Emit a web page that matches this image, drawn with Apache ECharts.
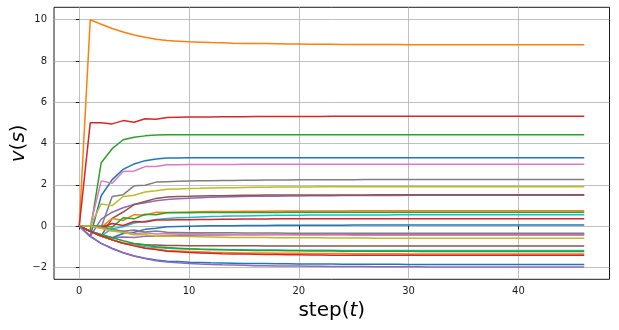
<!DOCTYPE html>
<html>
<head>
<meta charset="utf-8">
<script src="https://cdn.jsdelivr.net/npm/echarts@6/dist/echarts.min.js"></script>
<style>
html,body{margin:0;padding:0;background:#fff;}
#chart{width:619px;height:330px;}
</style>
</head>
<body>
<div id="chart"></div>
<script>
const steps = [0,1,2,3,4,5,6,7,8,9,10,11,12,13,14,15,16,17,18,19,20,21,22,23,24,25,26,27,28,29,30,31,32,33,34,35,36,37,38,39,40,41,42,43,44,45,46];
const xTicks = [0, 10, 20, 30, 40];
const yTicks = [-2, 0, 2, 4, 6, 8, 10];
const colors = ['#1f77b4','#ff7f0e','#2ca02c','#d62728','#9467bd','#8c564b','#e377c2','#7f7f7f','#bcbd22','#17becf'];

const v_s0 = [0,-0.5,1.47,2.25,2.75,3.01,3.17,3.25,3.30,3.30,
 3.31,3.31,3.31,3.31,3.31,3.31,3.31,3.31,3.31,3.31,
 3.31,3.31,3.31,3.31,3.31,3.31,3.31,3.31,3.31,3.31,
 3.31,3.31,3.31,3.31,3.31,3.31,3.31,3.31,3.31,3.31,
 3.31,3.31,3.31,3.31,3.31,3.31,3.31];
const v_s1 = [0,10,9.78,9.57,9.40,9.26,9.15,9.05,8.99,8.96,
 8.93,8.91,8.89,8.88,8.86,8.85,8.84,8.84,8.83,8.82,
 8.82,8.81,8.81,8.81,8.80,8.80,8.80,8.80,8.80,8.80,
 8.79,8.79,8.79,8.79,8.79,8.79,8.79,8.79,8.79,8.79,
 8.79,8.79,8.79,8.79,8.79,8.79,8.79];
const v_s2 = [0,-0.25,3.07,3.75,4.18,4.30,4.37,4.41,4.42,4.42,
 4.43,4.43,4.43,4.43,4.43,4.43,4.43,4.43,4.43,4.43,
 4.43,4.43,4.43,4.43,4.43,4.43,4.43,4.43,4.43,4.43,
 4.43,4.43,4.43,4.43,4.43,4.43,4.43,4.43,4.43,4.43,
 4.43,4.43,4.43,4.43,4.43,4.43,4.43];
const v_s3 = [0,5,5.00,4.95,5.11,5.03,5.20,5.18,5.26,5.27,
 5.28,5.29,5.29,5.30,5.30,5.30,5.31,5.31,5.31,5.31,
 5.31,5.31,5.31,5.32,5.32,5.32,5.32,5.32,5.32,5.32,
 5.32,5.32,5.32,5.32,5.32,5.32,5.32,5.32,5.32,5.32,
 5.32,5.32,5.32,5.32,5.32,5.32,5.32];
const v_s4 = [0,-0.5,0.34,0.67,0.89,1.04,1.13,1.23,1.29,1.32,
 1.35,1.37,1.39,1.41,1.42,1.43,1.44,1.45,1.45,1.46,
 1.46,1.47,1.47,1.47,1.48,1.48,1.48,1.48,1.48,1.48,
 1.49,1.49,1.49,1.49,1.49,1.49,1.49,1.49,1.49,1.49,
 1.49,1.49,1.49,1.49,1.49,1.49,1.49];
const v_s5 = [0,-0.25,-0.48,0.37,0.68,1.04,1.19,1.34,1.41,1.43,
 1.44,1.46,1.47,1.47,1.48,1.49,1.49,1.50,1.50,1.50,
 1.51,1.51,1.51,1.51,1.51,1.51,1.51,1.52,1.52,1.52,
 1.52,1.52,1.52,1.52,1.52,1.52,1.52,1.52,1.52,1.52,
 1.52,1.52,1.52,1.52,1.52,1.52,1.52];
const v_s6 = [0,0,2.19,2.07,2.64,2.67,2.88,2.89,2.97,2.97,
 2.98,2.98,2.98,2.98,2.98,2.99,2.99,2.99,2.99,2.99,
 2.99,2.99,2.99,2.99,2.99,2.99,2.99,2.99,2.99,2.99,
 2.99,2.99,2.99,2.99,2.99,2.99,2.99,2.99,2.99,2.99,
 2.99,2.99,2.99,2.99,2.99,2.99,2.99];
const v_s7 = [0,0,-0.06,1.43,1.52,1.95,1.98,2.13,2.15,2.17,
 2.18,2.19,2.20,2.21,2.21,2.22,2.22,2.23,2.23,2.23,
 2.24,2.24,2.24,2.24,2.24,2.24,2.25,2.25,2.25,2.25,
 2.25,2.25,2.25,2.25,2.25,2.25,2.25,2.25,2.25,2.25,
 2.25,2.25,2.25,2.25,2.25,2.25,2.25];
const v_s8 = [0,0,1.07,0.99,1.43,1.49,1.65,1.71,1.78,1.80,
 1.82,1.83,1.85,1.86,1.86,1.87,1.88,1.88,1.89,1.89,
 1.89,1.89,1.90,1.90,1.90,1.90,1.90,1.90,1.91,1.91,
 1.91,1.91,1.91,1.91,1.91,1.91,1.91,1.91,1.91,1.91,
 1.91,1.91,1.91,1.91,1.91,1.91,1.91];
const v_s9 = [0,-0.25,-0.48,-0.13,-0.03,0.15,0.23,0.32,0.37,0.40,
 0.42,0.44,0.46,0.47,0.49,0.49,0.50,0.51,0.52,0.52,
 0.52,0.53,0.53,0.53,0.54,0.54,0.54,0.54,0.54,0.55,
 0.55,0.55,0.55,0.55,0.55,0.55,0.55,0.55,0.55,0.55,
 0.55,0.55,0.55,0.55,0.55,0.55,0.55];
const v_s10 = [0,-0.25,-0.42,-0.57,-0.36,-0.30,-0.16,-0.11,-0.03,-0.02,
 -0.01,0.00,0.01,0.02,0.02,0.03,0.03,0.03,0.04,0.04,
 0.04,0.04,0.04,0.04,0.04,0.05,0.05,0.05,0.05,0.05,
 0.05,0.05,0.05,0.05,0.05,0.05,0.05,0.05,0.05,0.05,
 0.05,0.05,0.05,0.05,0.05,0.05,0.05];
const v_s11 = [0,0,-0.06,0.37,0.27,0.55,0.53,0.67,0.66,0.67,
 0.68,0.69,0.70,0.71,0.71,0.72,0.72,0.72,0.73,0.73,
 0.73,0.73,0.73,0.73,0.73,0.74,0.74,0.74,0.74,0.74,
 0.74,0.74,0.74,0.74,0.74,0.74,0.74,0.74,0.74,0.74,
 0.74,0.74,0.74,0.74,0.74,0.74,0.74];
const v_s12 = [0,0,0,-0.05,0.40,0.35,0.57,0.55,0.64,0.65,
 0.65,0.66,0.66,0.66,0.66,0.66,0.66,0.66,0.66,0.67,
 0.67,0.67,0.67,0.67,0.67,0.67,0.67,0.67,0.67,0.67,
 0.67,0.67,0.67,0.67,0.67,0.67,0.67,0.67,0.67,0.67,
 0.67,0.67,0.67,0.67,0.67,0.67,0.67];
const v_s13 = [0,0,-0.06,0.12,0.03,0.22,0.20,0.29,0.29,0.30,
 0.31,0.32,0.32,0.33,0.33,0.34,0.34,0.34,0.35,0.35,
 0.35,0.35,0.35,0.35,0.36,0.36,0.36,0.36,0.36,0.36,
 0.36,0.36,0.36,0.36,0.36,0.36,0.36,0.36,0.36,0.36,
 0.36,0.36,0.36,0.36,0.36,0.36,0.36];
const v_s14 = [0,-0.25,-0.42,-0.57,-0.53,-0.56,-0.50,-0.49,-0.46,-0.45,
 -0.44,-0.43,-0.43,-0.43,-0.42,-0.42,-0.42,-0.41,-0.41,-0.41,
 -0.41,-0.41,-0.41,-0.40,-0.40,-0.40,-0.40,-0.40,-0.40,-0.40,
 -0.40,-0.40,-0.40,-0.40,-0.40,-0.40,-0.40,-0.40,-0.40,-0.40,
 -0.40,-0.40,-0.40,-0.40,-0.40,-0.40,-0.40];
const v_s15 = [0,-0.25,-0.48,-0.67,-0.83,-0.86,-0.92,-0.92,-0.94,-0.94,
 -0.95,-0.95,-0.96,-0.96,-0.96,-0.96,-0.96,-0.97,-0.97,-0.97,
 -0.97,-0.97,-0.97,-0.97,-0.97,-0.97,-0.97,-0.97,-0.97,-0.97,
 -0.97,-0.97,-0.97,-0.97,-0.97,-0.97,-0.97,-0.97,-0.97,-0.97,
 -0.97,-0.97,-0.97,-0.97,-0.97,-0.97,-0.97];
const v_s16 = [0,0,-0.11,-0.24,-0.25,-0.37,-0.33,-0.39,-0.36,-0.38,
 -0.39,-0.39,-0.40,-0.40,-0.41,-0.41,-0.42,-0.42,-0.42,-0.42,
 -0.43,-0.43,-0.43,-0.43,-0.43,-0.44,-0.44,-0.44,-0.44,-0.44,
 -0.44,-0.44,-0.44,-0.44,-0.44,-0.44,-0.44,-0.44,-0.44,-0.44,
 -0.44,-0.44,-0.44,-0.44,-0.44,-0.44,-0.44];
const v_s17 = [0,0,-0.06,-0.15,-0.25,-0.19,-0.29,-0.24,-0.30,-0.31,
 -0.32,-0.32,-0.33,-0.33,-0.33,-0.34,-0.34,-0.34,-0.34,-0.35,
 -0.35,-0.35,-0.35,-0.35,-0.35,-0.35,-0.35,-0.35,-0.35,-0.35,
 -0.35,-0.35,-0.35,-0.35,-0.35,-0.35,-0.35,-0.35,-0.35,-0.35,
 -0.35,-0.35,-0.35,-0.35,-0.35,-0.35,-0.35];
const v_s18 = [0,0,-0.11,-0.24,-0.31,-0.42,-0.41,-0.49,-0.48,-0.50,
 -0.51,-0.52,-0.53,-0.54,-0.55,-0.55,-0.56,-0.56,-0.57,-0.57,
 -0.57,-0.57,-0.57,-0.58,-0.58,-0.58,-0.58,-0.59,-0.59,-0.59,
 -0.59,-0.59,-0.59,-0.59,-0.59,-0.59,-0.59,-0.59,-0.59,-0.59,
 -0.59,-0.59,-0.59,-0.59,-0.59,-0.59,-0.59];
const v_s19 = [0,-0.25,-0.48,-0.67,-0.83,-0.91,-1.00,-1.04,-1.08,-1.10,
 -1.11,-1.12,-1.13,-1.14,-1.15,-1.15,-1.16,-1.16,-1.16,-1.17,
 -1.17,-1.17,-1.17,-1.17,-1.18,-1.18,-1.18,-1.18,-1.18,-1.18,
 -1.18,-1.18,-1.18,-1.18,-1.18,-1.18,-1.18,-1.18,-1.18,-1.18,
 -1.18,-1.18,-1.18,-1.18,-1.18,-1.18,-1.18];
const v_s20 = [0,-0.5,-0.84,-1.09,-1.29,-1.45,-1.56,-1.65,-1.70,-1.72,
 -1.75,-1.76,-1.78,-1.79,-1.80,-1.81,-1.82,-1.82,-1.83,-1.83,
 -1.84,-1.84,-1.84,-1.84,-1.85,-1.85,-1.85,-1.85,-1.85,-1.85,
 -1.86,-1.86,-1.86,-1.86,-1.86,-1.86,-1.86,-1.86,-1.86,-1.86,
 -1.86,-1.86,-1.86,-1.86,-1.86,-1.86,-1.86];
const v_s21 = [0,-0.25,-0.48,-0.67,-0.83,-0.94,-1.06,-1.12,-1.19,-1.21,
 -1.23,-1.25,-1.27,-1.28,-1.29,-1.30,-1.30,-1.31,-1.32,-1.32,
 -1.32,-1.33,-1.33,-1.33,-1.33,-1.34,-1.34,-1.34,-1.34,-1.34,
 -1.35,-1.35,-1.35,-1.35,-1.35,-1.35,-1.35,-1.35,-1.35,-1.35,
 -1.35,-1.35,-1.35,-1.35,-1.35,-1.35,-1.35];
const v_s22 = [0,-0.25,-0.42,-0.57,-0.71,-0.84,-0.91,-1.00,-1.04,-1.07,
 -1.10,-1.12,-1.13,-1.15,-1.16,-1.17,-1.18,-1.19,-1.19,-1.20,
 -1.20,-1.21,-1.21,-1.21,-1.22,-1.22,-1.22,-1.22,-1.22,-1.22,
 -1.22,-1.23,-1.23,-1.23,-1.23,-1.23,-1.23,-1.23,-1.23,-1.23,
 -1.23,-1.23,-1.23,-1.23,-1.23,-1.23,-1.23];
const v_s23 = [0,-0.25,-0.48,-0.67,-0.83,-0.96,-1.08,-1.14,-1.22,-1.25,
 -1.28,-1.30,-1.32,-1.34,-1.35,-1.36,-1.37,-1.38,-1.38,-1.39,
 -1.39,-1.40,-1.40,-1.41,-1.41,-1.41,-1.41,-1.41,-1.42,-1.42,
 -1.42,-1.42,-1.42,-1.42,-1.42,-1.42,-1.42,-1.42,-1.42,-1.42,
 -1.42,-1.42,-1.42,-1.42,-1.42,-1.42,-1.42];
const v_s24 = [0,-0.5,-0.84,-1.09,-1.29,-1.45,-1.57,-1.68,-1.74,-1.78,
 -1.81,-1.84,-1.86,-1.88,-1.89,-1.90,-1.92,-1.92,-1.93,-1.94,
 -1.94,-1.95,-1.95,-1.96,-1.96,-1.96,-1.96,-1.97,-1.97,-1.97,
 -1.97,-1.97,-1.98,-1.98,-1.98,-1.98,-1.98,-1.98,-1.98,-1.98,
 -1.98,-1.98,-1.98,-1.98,-1.98,-1.98,-1.98];

const allStates = [v_s0,v_s1,v_s2,v_s3,v_s4,v_s5,v_s6,v_s7,v_s8,v_s9,v_s10,v_s11,v_s12,
  v_s13,v_s14,v_s15,v_s16,v_s17,v_s18,v_s19,v_s20,v_s21,v_s22,v_s23,v_s24];

const FONT = 'DejaVu Sans';
const fmt = v => String(v).replace('-', '\u2212');

const chart = echarts.init(document.getElementById('chart'), null, {renderer: 'canvas'});
chart.setOption({
  animation: false,
  backgroundColor: '#ffffff',
  grid: {left: 54, right: 9.5, top: 7.3, bottom: 50.7, containLabel: false, outerBoundsMode: 'none',
         show: true, borderColor: '#1a1a1a', borderWidth: 1, backgroundColor: 'transparent'},
  xAxis: {
    type: 'value', min: -2.3, max: 48.3,
    axisLine: {show: false},
    axisTick: {show: true, inside: false, length: 3.5, lineStyle: {color: '#1a1a1a', width: 1}, customValues: xTicks},
    axisLabel: {show: true, margin: 7, fontFamily: FONT, fontSize: 10, color: '#1a1a1a', formatter: fmt, customValues: xTicks},
    splitLine: {show: true, lineStyle: {color: '#b0b0b0', width: 0.8}},
    name: '{n|step(}{i|t}{n|)}', nameLocation: 'middle', nameGap: 19,
    nameTextStyle: {rich: {n: {fontFamily: FONT, fontSize: 20, color: '#000'}, i: {fontFamily: FONT, fontSize: 20, fontStyle: 'italic', color: '#000'}}}
  },
  yAxis: {
    type: 'value', min: -2.58, max: 10.6,
    axisLine: {show: false},
    axisTick: {show: true, inside: false, length: 3.5, lineStyle: {color: '#1a1a1a', width: 1}, customValues: yTicks},
    axisLabel: {show: true, margin: 7, fontFamily: FONT, fontSize: 10, color: '#1a1a1a', formatter: fmt, customValues: yTicks},
    splitLine: {show: true, lineStyle: {color: '#b0b0b0', width: 0.8}},
    name: '{i|v}{n|(}{i|s}{n|)}', nameLocation: 'middle', nameGap: 25, nameRotate: 90, nameMoveOverlap: false,
    nameTextStyle: {rich: {n: {fontFamily: FONT, fontSize: 20, color: '#000'}, i: {fontFamily: FONT, fontSize: 20, fontStyle: 'italic', color: '#000'}}}
  },
  series: allStates.map((vals, k) => ({
    type: 'line',
    data: steps.map((t, i) => [t, vals[i]]),
    showSymbol: false,
    symbol: 'none',
    lineStyle: {width: 1.5, color: colors[k % 10]},
    itemStyle: {color: colors[k % 10]},
    z: 2 + k * 0.001
  }))
});
</script>
</body>
</html>
